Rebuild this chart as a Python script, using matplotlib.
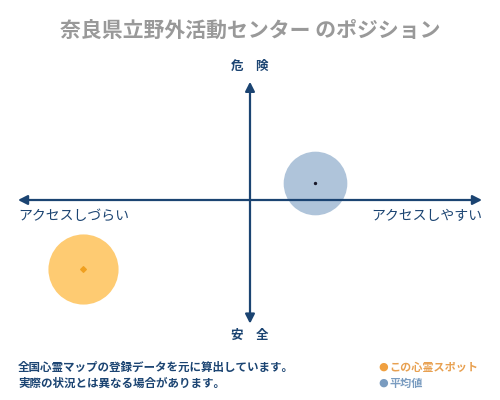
import matplotlib
matplotlib.use('Agg')
import matplotlib.pyplot as plt

plt.rcParams['font.family'] = ['Noto Sans CJK JP', 'DejaVu Sans']

# chart data
title = '奈良県立野外活動センター のポジション'
axis_top = '危　険'
axis_bottom = '安　全'
axis_left = 'アクセスしづらい'
axis_right = 'アクセスしやすい'
spot_name = 'この心霊スポット'
avg_name = '平均値'
spot_x, spot_y = -7.2, -5.75     # access score, danger score
avg_x, avg_y = 2.8, 1.45
notes = ['全国心霊マップの登録データを元に算出しています。',
         '実際の状況とは異なる場合があります。']

navy = '#1b4472'
orange_fill = '#fecb72'
orange_dot = '#f0a020'
blue_fill = '#afc4da'

fig = plt.figure(figsize=(5, 4), dpi=100)
ax = fig.add_axes([0, 0, 1, 1])
ax.set_xlim(-10.776, 10.776)
ax.set_ylim(-16.667, 16.667)
ax.axis('off')

# bubbles
ax.scatter([avg_x], [avg_y], s=2100, color=blue_fill, zorder=1, linewidths=0)
ax.scatter([avg_x], [avg_y], s=2, color='#1a1a2a', zorder=4)
ax.scatter([spot_x], [spot_y], s=2550, color=orange_fill, zorder=1, linewidths=0)
ax.scatter([spot_x], [spot_y], s=8, color=orange_dot, marker='D', zorder=4)

# axes arrows
arrow = dict(arrowstyle='<|-|>,head_length=0.55,head_width=0.28', color=navy,
             lw=1.6, shrinkA=0, shrinkB=0, mutation_scale=10)
ax.annotate('', xy=(10, 0), xytext=(-10, 0), arrowprops=arrow, zorder=3)
ax.annotate('', xy=(0, 9.85), xytext=(0, -10.3), arrowprops=arrow, zorder=3)

ax.text(0, 11.1, axis_top, ha='center', va='center', fontsize=9,
        color=navy, fontweight='bold')
ax.text(0, -11.25, axis_bottom, ha='center', va='center', fontsize=9,
        color=navy, fontweight='bold')
ax.text(-10, -1.35, axis_left, ha='left', va='center', fontsize=10, color=navy)
ax.text(10, -1.35, axis_right, ha='right', va='center', fontsize=10, color=navy)

fig.text(0.5, 0.925, title, ha='center', va='center', fontsize=15,
         color='#999999', fontweight='bold')

fig.text(0.036, 0.0825, notes[0], ha='left', va='center', fontsize=8.3,
         color=navy, fontweight='bold')
fig.text(0.036, 0.0425, notes[1], ha='left', va='center', fontsize=8.3,
         color=navy, fontweight='bold')

fig.text(0.766, 0.0825, '●', ha='center', va='center', fontsize=8, color='#f0a040',
         family='DejaVu Sans')
fig.text(0.778, 0.0825, spot_name, ha='left', va='center', fontsize=8,
         color='#e8a050', fontweight='bold')
fig.text(0.766, 0.0425, '●', ha='center', va='center', fontsize=8, color='#7a9cc0',
         family='DejaVu Sans')
fig.text(0.778, 0.0425, avg_name, ha='left', va='center', fontsize=8,
         color='#7a9cc0', fontweight='bold')

fig.savefig('out.png', dpi=100, facecolor='white')
